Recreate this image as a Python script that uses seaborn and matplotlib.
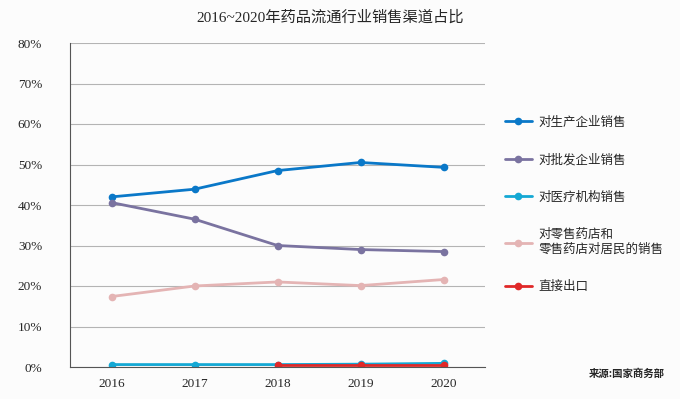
import pandas as pd
import numpy as np
import matplotlib
matplotlib.use("Agg")
import matplotlib.pyplot as plt
import seaborn as sns

# values (percent)
years = ["2016", "2017", "2018", "2019", "2020"]
production = [42.0, 43.9, 48.5, 50.5, 49.3]
wholesale = [40.6, 36.5, 30.0, 29.0, 28.5]
medical = [0.6, 0.6, 0.6, 0.7, 0.9]
retail = [17.4, 20.0, 21.0, 20.1, 21.6]
export = [np.nan, np.nan, 0.4, 0.4, 0.4]

series_names = ["对生产企业销售", "对批发企业销售", "对医疗机构销售",
                "对零售药店和\n零售药店对居民的销售", "直接出口"]
colors = ["#0a78c8", "#7a73a0", "#14a8d4", "#e4b4b4", "#e02828"]

rows = []
for name, vals in zip(series_names, [production, wholesale, medical, retail, export]):
    for i, v in enumerate(vals):
        rows.append({"year": i, "value": v, "series": name})
df = pd.DataFrame(rows).dropna()

sns.set_style("white")
plt.rcParams['font.family'] = ['Noto Sans CJK SC', 'DejaVu Sans']

fig = plt.figure(figsize=(6.8, 3.99), dpi=100, facecolor="#fcfcfc")
ax = fig.add_axes([70 / 680, 32 / 399, 415 / 680, 324 / 399])
ax.set_facecolor("#fcfcfc")

sns.lineplot(data=df, x="year", y="value", hue="series", hue_order=series_names,
             palette=colors, marker="o", markersize=5.5, markeredgewidth=0,
             linewidth=2, ax=ax)

ax.set_xlim(-0.5, 4.5)
ax.set_ylim(0, 80)
ax.set_yticks(range(0, 81, 10))
ax.set_yticklabels([f"{t}%" for t in range(0, 81, 10)], family="Liberation Serif", fontsize=9.5)
ax.set_xticks(range(len(years)))
ax.set_xticklabels(years, family="Liberation Serif", fontsize=9.5)
ax.tick_params(axis="y", length=0, pad=20)
ax.tick_params(axis="x", length=0, pad=8)
ax.set_xlabel("")
ax.set_ylabel("")
ax.grid(axis="y", color="#b4b4b4", linewidth=0.8)
ax.set_axisbelow(True)
for s in ["top", "right"]:
    ax.spines[s].set_visible(False)
ax.spines["left"].set_color("#555555")
ax.spines["bottom"].set_color("#555555")

ax.legend(loc="upper left", bbox_to_anchor=(1.02, 0.81), frameon=False,
          fontsize=9, labelspacing=1.95, handlelength=2.2, handletextpad=0.5)

fig.text(330 / 680, 1 - 18 / 399, "2016~2020年药品流通行业销售渠道占比",
         ha="center", va="center", fontsize=11,
         family=["Liberation Serif", "Noto Sans CJK SC"])
fig.text(665 / 680, 1 - 374 / 399, "来源:国家商务部", ha="right", va="center",
         fontsize=7.5, fontweight="bold")

fig.savefig("out.png", dpi=100, facecolor=fig.get_facecolor())
